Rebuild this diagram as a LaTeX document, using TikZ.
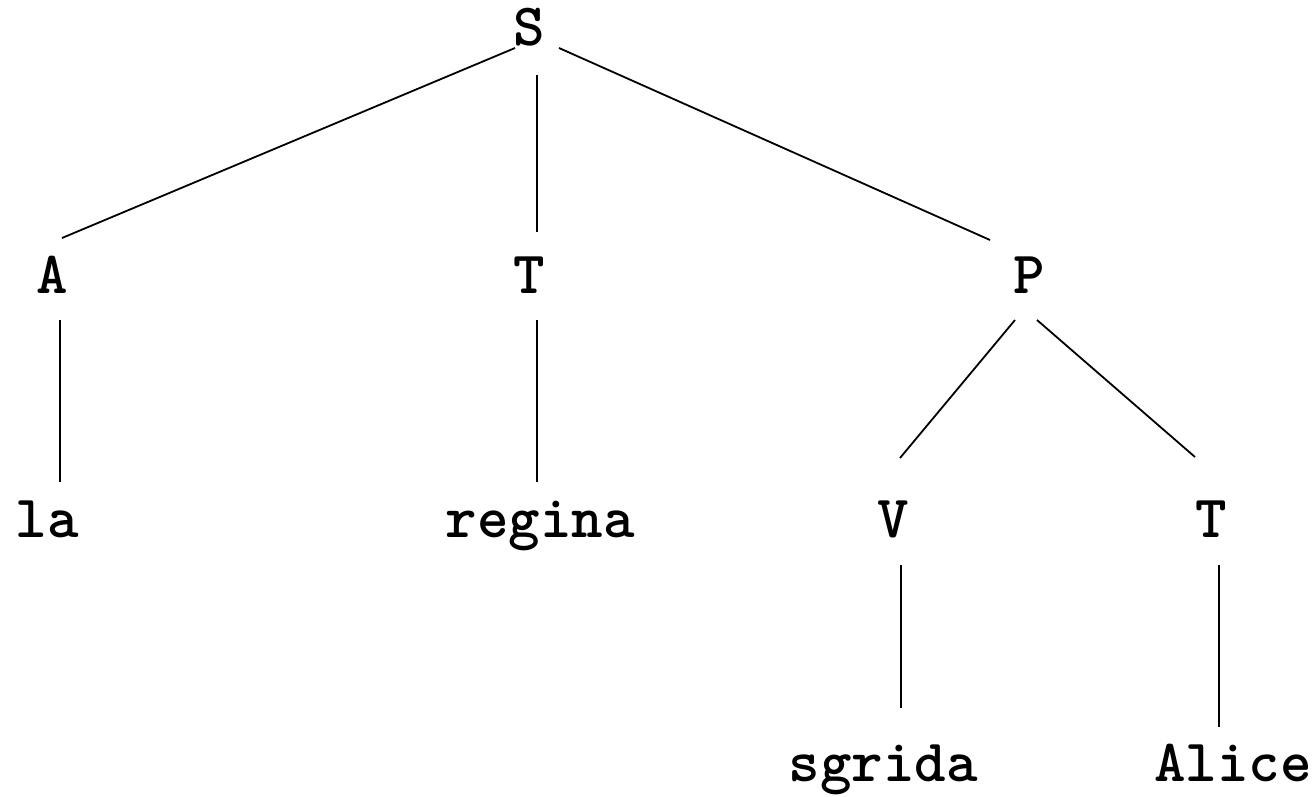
\documentclass[tikz,border=0pt]{standalone}
\usetikzlibrary{calc}
\begin{document}
\begin{tikzpicture}[x=1pt,y=-1pt,
  lbl/.style={anchor=base,inner sep=0pt,font=\fontsize{60}{66}\selectfont\ttfamily\bfseries},
  edge/.style={line width=1.8pt,black}]
\useasboundingbox (0,0) rectangle (1316,796);
% labels
\node[lbl] (S) at (529,45) {S};
\node[lbl] (A) at (52,293) {A};
\node[lbl] (T) at (529,293) {T};
\node[lbl] (P) at (1029,293) {P};
\node[lbl] (la) at (47,537) {la};
\node[lbl] (regina) at (540,537) {regina};
\node[lbl] (V) at (893,537) {V};
\node[lbl] (T2) at (1211,537) {T};
\node[lbl] (sgrida) at (883,781) {sgrida};
\node[lbl] (Alice) at (1233,781) {Alice};
% edges
\draw[edge] ($(S.base)+(-14,3)$) -- ($(A.base)+(10,-55)$);
\draw[edge] ($(S.base)+(8,30)$) -- ($(T.base)+(8,-61)$);
\draw[edge] ($(S.base)+(30,3)$) -- ($(P.base)+(-39,-53)$);
\draw[edge] ($(A.base)+(8,27)$) -- ($(la.base)+(13,-55)$);
\draw[edge] ($(T.base)+(8,27)$) -- ($(regina.base)+(-3,-55)$);
\draw[edge] ($(P.base)+(-14,27)$) -- ($(V.base)+(7,-79)$);
\draw[edge] ($(P.base)+(8,27)$) -- ($(T2.base)+(-16,-80)$);
\draw[edge] ($(V.base)+(8,28)$) -- ($(sgrida.base)+(18,-73)$);
\draw[edge] ($(T2.base)+(8,28)$) -- ($(Alice.base)+(-14,-54)$);
\end{tikzpicture}
\end{document}
